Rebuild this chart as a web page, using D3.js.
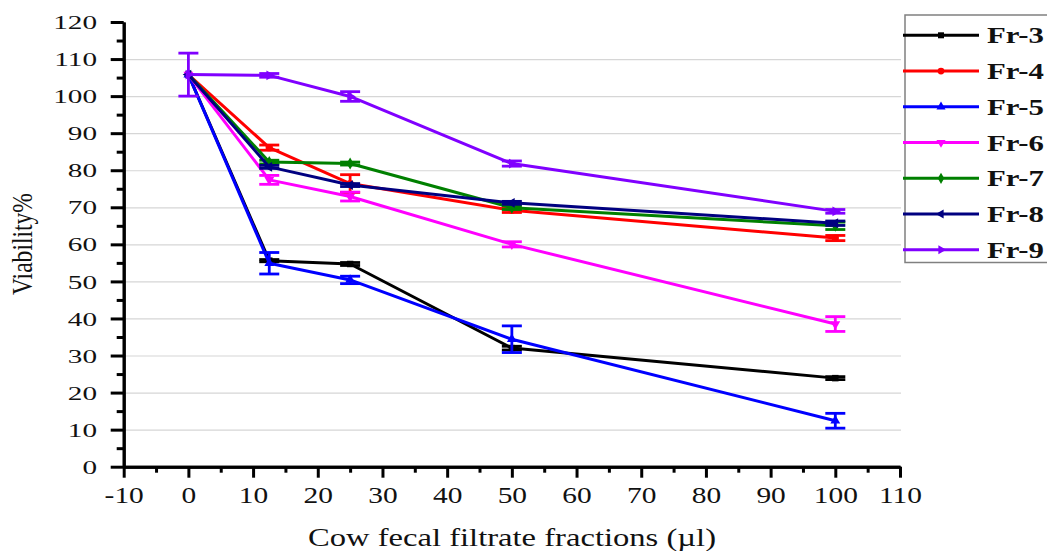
<!DOCTYPE html>
<html>
<head>
<meta charset="utf-8">
<script src="https://cdn.jsdelivr.net/npm/d3@7"></script>
<style>
  body { margin: 0; background: #fff; }
  svg { display: block; }
  text { font-family: "Liberation Serif", "Times New Roman", serif; fill: #111; }
</style>
</head>
<body>
<svg id="chart" width="1047" height="551"></svg>
<script>
// Filtrate volumes (µl)
const doses = [0, 12.5, 25, 50, 100];

// Viability (%) per fraction, with the error half-widths
const fr3 = [105.8, 55.6, 54.7, 32.0, 23.9];
const fr3Err = [0, 0.3, 0.4, 0.5, 0.4];
const fr4 = [105.8, 86.1, 76.4, 69.2, 61.7];
const fr4Err = [0, 0.7, 2.4, 0.6, 0.7];
const fr5 = [105.8, 54.9, 50.4, 34.4, 12.4];
const fr5Err = [0, 2.9, 1.0, 3.6, 2.0];
const fr6 = [105.8, 77.4, 72.9, 60.0, 38.5];
const fr6Err = [0, 1.2, 1.2, 0.7, 2.0];
const fr7 = [105.8, 82.2, 81.8, 69.9, 65.0];
const fr7Err = [0, 0.5, 0.4, 0.5, 1.0];
const fr8 = [105.8, 80.9, 76.0, 71.2, 65.7];
const fr8Err = [0, 0.4, 0.4, 0.4, 0.6];
const fr9 = [105.8, 105.6, 99.9, 81.8, 68.9];
const fr9Err = [5.8, 0.5, 1.3, 0.7, 0.5];

const seriesNames = ["Fr-3", "Fr-4", "Fr-5", "Fr-6", "Fr-7", "Fr-8", "Fr-9"];
const seriesValues = [fr3, fr4, fr5, fr6, fr7, fr8, fr9];
const seriesErrors = [fr3Err, fr4Err, fr5Err, fr6Err, fr7Err, fr8Err, fr9Err];
const seriesColors = ["#000000", "#ff0000", "#0000ff", "#ff00ff", "#008000", "#000080", "#8000ff"];
const seriesShapes = ["square", "circle", "up", "down", "diamond", "left", "right"];

const xMajorTicks = [-10, 0, 10, 20, 30, 40, 50, 60, 70, 80, 90, 100, 110];
const xMinorTicks = [-5, 5, 15, 25, 35, 45, 55, 65, 75, 85, 95, 105];
const yMajorTicks = [0, 10, 20, 30, 40, 50, 60, 70, 80, 90, 100, 110, 120];
const yMinorTicks = [5, 15, 25, 35, 45, 55, 65, 75, 85, 95, 105, 115];
const gridTicks = [10, 20, 30, 40, 50, 60, 70, 80, 90, 100, 110];

const xLabel = "Cow fecal filtrate fractions (\u00b5l)";
const yLabel = "Viability%";

const svg = d3.select("#chart");

const x = d3.scaleLinear().domain([-10, 110]).range([123.7, 900]);
const y = d3.scaleLinear().domain([0, 120]).range([466.7, 22]);

// light horizontal grid
svg.append("g")
  .attr("transform", `translate(${x(-10)},0)`)
  .call(d3.axisLeft(y).tickValues(gridTicks).tickSizeInner(-(x(110) - x(-10) + 1)).tickSizeOuter(0).tickFormat(""))
  .call(g => g.select(".domain").remove())
  .call(g => g.selectAll(".tick line").attr("stroke", "#d6d6d6").attr("stroke-width", 1.2));

// symbol generator
function symbolPath(shape, size) {
  const gen = d3.symbol().size(size);
  if (shape === "square") return { d: gen.type(d3.symbolSquare)(), rot: 0 };
  if (shape === "circle") return { d: gen.type(d3.symbolCircle)(), rot: 0 };
  if (shape === "diamond") return { d: gen.type(d3.symbolDiamond)(), rot: 0 };
  const rot = { up: 0, down: 180, left: -90, right: 90 }[shape];
  return { d: gen.type(d3.symbolTriangle)(), rot };
}

const line = d3.line().x(d => x(d.dose)).y(d => y(d.v));
const capHalf = 10;

seriesNames.forEach((name, i) => {
  const pts = doses.map((dose, j) => ({ dose, v: seriesValues[i][j], e: seriesErrors[i][j] }));
  const col = seriesColors[i];
  const g = svg.append("g");

  g.append("path").datum(pts)
    .attr("d", line).attr("fill", "none")
    .attr("stroke", col).attr("stroke-width", 3).attr("stroke-linejoin", "round");

  // error bars (only where a spread was measured)
  const eb = g.selectAll(".eb").data(pts.filter(d => d.e > 0)).join("g").attr("class", "eb")
    .attr("stroke", col).attr("stroke-width", 2.8);
  eb.append("line")
    .attr("x1", d => x(d.dose)).attr("x2", d => x(d.dose))
    .attr("y1", d => y(d.v - d.e)).attr("y2", d => y(d.v + d.e));
  eb.append("line")
    .attr("x1", d => x(d.dose) - capHalf).attr("x2", d => x(d.dose) + capHalf)
    .attr("y1", d => y(d.v + d.e)).attr("y2", d => y(d.v + d.e));
  eb.append("line")
    .attr("x1", d => x(d.dose) - capHalf).attr("x2", d => x(d.dose) + capHalf)
    .attr("y1", d => y(d.v - d.e)).attr("y2", d => y(d.v - d.e));

  const sym = symbolPath(seriesShapes[i], 42);
  g.selectAll(".mk").data(pts).join("path").attr("class", "mk")
    .attr("d", sym.d)
    .attr("transform", d => `translate(${x(d.dose)},${y(d.v)}) rotate(${sym.rot})`)
    .attr("fill", col);
});

// axes: minor ticks, then major ticks with labels
function styleAxis(g) {
  g.selectAll("path.domain").attr("stroke", "#000").attr("stroke-width", 3);
  g.selectAll(".tick line").attr("stroke", "#000").attr("stroke-width", 3);
}
const plainNumber = d => String(d);

svg.append("g").attr("transform", `translate(0,${y(0)})`)
  .call(d3.axisBottom(x).tickValues(xMinorTicks).tickSize(6).tickSizeOuter(0).tickFormat(""))
  .call(styleAxis);
const xAxis = svg.append("g").attr("transform", `translate(0,${y(0)})`)
  .call(d3.axisBottom(x).tickValues(xMajorTicks).tickSize(11).tickSizeOuter(0).tickFormat(plainNumber))
  .call(styleAxis);
xAxis.selectAll(".tick text")
  .attr("y", 36.5).attr("dy", 0)
  .attr("font-size", 23).attr("fill", "#111")
  .attr("font-family", "Liberation Serif, serif")
  .attr("transform", "scale(1.28,1)");

svg.append("g").attr("transform", `translate(${x(-10)},0)`)
  .call(d3.axisLeft(y).tickValues(yMinorTicks).tickSize(7).tickSizeOuter(0).tickFormat(""))
  .call(styleAxis);
const yAxis = svg.append("g").attr("transform", `translate(${x(-10)},0)`)
  .call(d3.axisLeft(y).tickValues(yMajorTicks).tickSize(13).tickSizeOuter(0).tickFormat(plainNumber))
  .call(styleAxis);
yAxis.selectAll(".tick text")
  .attr("x", -26.7 / 1.5).attr("dy", "0.34em")
  .attr("font-size", 19.5).attr("fill", "#111")
  .attr("font-family", "Liberation Serif, serif")
  .attr("transform", "scale(1.5,1)");

// axis titles
svg.append("text")
  .attr("x", 308).attr("y", 546)
  .attr("font-size", 25)
  .attr("textLength", 408).attr("lengthAdjust", "spacingAndGlyphs")
  .text(xLabel);

svg.append("text")
  .attr("transform", "translate(32,244) scale(1.25,1) rotate(-90)")
  .attr("text-anchor", "middle")
  .attr("font-size", 23)
  .attr("textLength", 102).attr("lengthAdjust", "spacingAndGlyphs")
  .text(yLabel);

// legend
const legend = svg.append("g");
legend.append("rect")
  .attr("x", 905).attr("y", 15).attr("width", 200).attr("height", 247.5)
  .attr("fill", "#fff").attr("stroke", "#808080").attr("stroke-width", 1.5);

const rowY = i => 35.3 + i * 35.75;
seriesNames.forEach((name, i) => {
  const cy = rowY(i);
  legend.append("line")
    .attr("x1", 903).attr("x2", 979).attr("y1", cy).attr("y2", cy)
    .attr("stroke", seriesColors[i]).attr("stroke-width", 3);
  const sym = symbolPath(seriesShapes[i], 36);
  legend.append("path")
    .attr("d", sym.d)
    .attr("transform", `translate(941,${cy}) rotate(${sym.rot})`)
    .attr("fill", seriesColors[i]);
  legend.append("text")
    .attr("x", 987).attr("y", cy + 8)
    .attr("font-size", 23).attr("font-weight", "bold")
    .attr("textLength", 57).attr("lengthAdjust", "spacingAndGlyphs")
    .text(name);
});
</script>
</body>
</html>
